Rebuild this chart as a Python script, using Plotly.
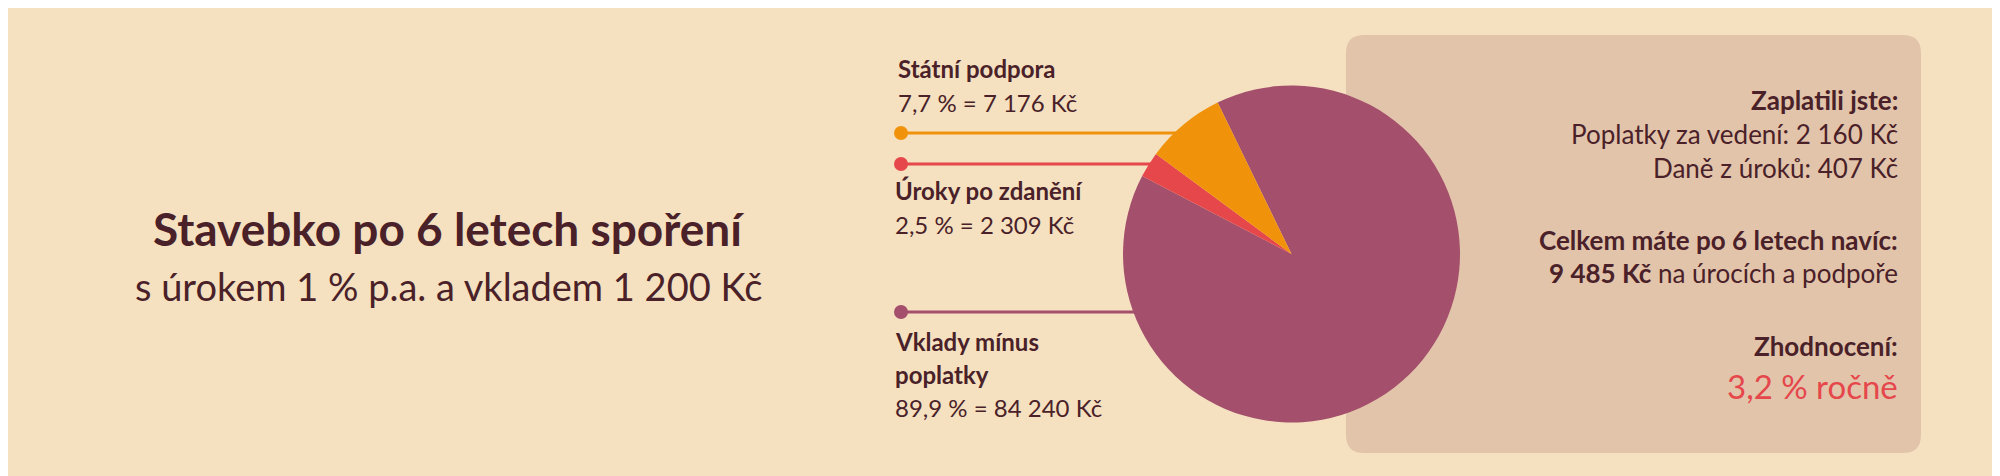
import plotly.graph_objects as go

W, H = 2000, 476
labels = ["Vklady mínus poplatky", "Úroky po zdanění", "Státní podpora"]
values = [84240, 2309, 7176]
pct_text = ["89,9 % = 84 240 Kč", "2,5 % = 2 309 Kč", "7,7 % = 7 176 Kč"]
colors = ["#a44f6c", "#e5474b", "#f0930a"]

bg = "#f5e1c0"
ink = "#4a2128"
font = "Lato"

fig = go.Figure(go.Pie(
    labels=labels, values=values, marker=dict(colors=colors),
    sort=False, direction="clockwise", rotation=-26,
    textinfo="none", hoverinfo="label+value", showlegend=False,
    domain=dict(x=[1115 / W, 1452 / W], y=[1 - 425 / H, 1 - 67 / H]),
))

def px(x):
    return x / W

def py(y):
    return 1 - y / H

shapes = []
# rounded info box
x0, x1, y0, y1, r = px(1338), px(1913), py(445), py(27), 18
rx, ry = r / W, r / H
shapes.append(dict(
    type="path", xref="paper", yref="paper", layer="below", line_width=0, fillcolor="#e2c4ab",
    path=(f"M{x0+rx},{y0} L{x1-rx},{y0} Q{x1},{y0} {x1},{y0+ry} L{x1},{y1-ry} Q{x1},{y1} {x1-rx},{y1} "
          f"L{x0+rx},{y1} Q{x0},{y1} {x0},{y1-ry} L{x0},{y0+ry} Q{x0},{y0} {x0+rx},{y0} Z"),
))
# leader lines with dots (maroon, red, orange)
leaders = [(304, 1160), (156, 1160), (125, 1180)]
for (ly, lend), c in zip(leaders, colors):
    shapes.append(dict(type="line", xref="paper", yref="paper", layer="below",
                       x0=px(893), x1=px(lend), y0=py(ly), y1=py(ly), line=dict(color=c, width=3)))
    shapes.append(dict(type="circle", xref="paper", yref="paper", line_width=0, fillcolor=c,
                       x0=px(886), x1=px(900), y0=py(ly + 7), y1=py(ly - 7)))

ann = []
def text(x, y, s, size=22, anchor="left", color=ink, bold=False):
    if bold:
        s = f"<b>{s}</b>"
    ann.append(dict(x=px(x), y=py(y), xref="paper", yref="paper", text=s, showarrow=False,
                    xanchor=anchor, yanchor="middle", font=dict(family=font, size=size, color=color)))

text(440, 220, "Stavebko po 6 letech spoření", 46, "center", bold=True)
text(440, 278, "s úrokem 1 % p.a. a vkladem 1 200 Kč", 38, "center")

text(888, 60, labels[2], 24, bold=True)
text(888, 95, pct_text[2], 24)
text(885, 183, labels[1], 24, bold=True)
text(885, 217, pct_text[1], 24)
text(885, 333, "Vklady mínus", 24, bold=True)
text(885, 366, "poplatky", 24, bold=True)
text(885, 399, pct_text[0], 24)

text(1892, 92, "Zaplatili jste:", 26, "right", bold=True)
text(1892, 126, "Poplatky za vedení: 2 160 Kč", 26, "right")
text(1892, 160, "Daně z úroků: 407 Kč", 26, "right")
text(1892, 232, "Celkem máte po 6 letech navíc:", 26, "right", bold=True)
text(1892, 265, "<b>9 485 Kč</b> na úrocích a podpoře", 26, "right")
text(1892, 338, "Zhodnocení:", 26, "right", bold=True)
text(1892, 378, "3,2 % ročně", 33, "right", color="#e5474b")

fig.update_layout(width=W, height=H, margin=dict(l=0, r=0, t=0, b=0),
                  paper_bgcolor=bg, plot_bgcolor=bg, shapes=shapes, annotations=ann)
fig.write_html("out.html")
